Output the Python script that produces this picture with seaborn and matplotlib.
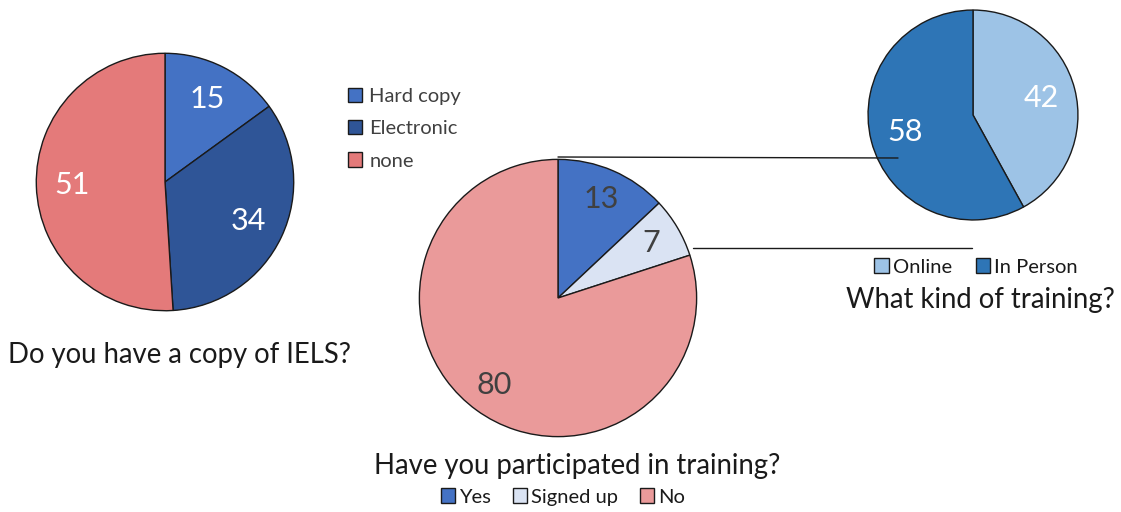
import matplotlib
matplotlib.use('Agg')
import matplotlib.pyplot as plt
import seaborn as sns
from matplotlib.lines import Line2D

# survey answers
copy_labels = ['Hard copy', 'Electronic', 'none']
copy_values = [15, 34, 51]
copy_colors = ['#4472C4', '#2F5597', '#E47A7A']

training_labels = ['Yes', 'Signed up', 'No']
training_values = [13, 7, 80]
training_colors = ['#4472C4', '#DAE3F3', '#EA9A9A']

kind_labels = ['Online', 'In Person']
kind_values = [42, 58]
kind_colors = ['#9DC3E6', '#2E75B6']

sns.set_theme(style='white')
plt.rcParams['font.family'] = ['Lato', 'DejaVu Sans']

W, H = 1121, 512
fig = plt.figure(figsize=(W / 100, H / 100), dpi=100)
fig.patch.set_facecolor('white')


def px_axes(cx, cy, r):
    # axes box in pixel coords (origin top-left) around a pie centre
    return fig.add_axes([(cx - r) / W, (H - cy - r) / H, 2 * r / W, 2 * r / H])


def draw_pie(ax, values, colors, text_color, pctdist):
    total = sum(values)
    wedges, _, autotexts = ax.pie(
        values, colors=colors, startangle=90, counterclock=False,
        autopct=lambda p: f'{round(p * total / 100)}', pctdistance=pctdist,
        wedgeprops=dict(edgecolor='#1a1a1a', linewidth=1.0),
        textprops=dict(color=text_color, fontsize=22))
    ax.set_xlim(-1.01, 1.01)
    ax.set_ylim(-1.01, 1.01)
    ax.axis('off')
    return wedges


title_size = 19.8
legend_size = 14.5

# pie 1 - copy of IELS
ax1 = px_axes(165, 182, 130)
w1 = draw_pie(ax1, copy_values, copy_colors, 'white', 0.72)
fig.legend(w1, copy_labels, loc='upper left', bbox_to_anchor=(340 / W, 1 - 80 / H),
           frameon=False, fontsize=legend_size, labelcolor='#404040', handlelength=0.7,
           handleheight=0.7, handletextpad=0.35, labelspacing=0.75, borderaxespad=0)
fig.text(8 / W, 1 - 355 / H, 'Do you have a copy of IELS?', fontsize=title_size,
         color='#1a1a1a', va='center', ha='left')

# pie 2 - participated in training
ax2 = px_axes(558, 298, 140)
w2 = draw_pie(ax2, training_values, training_colors, '#404040', 0.78)
fig.text(577 / W, 1 - 466 / H, 'Have you participated in training?', fontsize=title_size,
         color='#1a1a1a', va='center', ha='center')
fig.legend(w2, training_labels, loc='center', bbox_to_anchor=(563 / W, 1 - 497 / H),
           ncol=3, frameon=False, fontsize=legend_size, labelcolor='#1a1a1a', handlelength=0.7,
           handleheight=0.7, handletextpad=0.2, columnspacing=1.1, borderaxespad=0)

# pie 3 - kind of training
ax3 = px_axes(973, 115, 106)
w3 = draw_pie(ax3, kind_values, kind_colors, 'white', 0.67)
fig.legend(w3, kind_labels, loc='center', bbox_to_anchor=(976 / W, 1 - 267 / H),
           ncol=2, frameon=False, fontsize=legend_size, labelcolor='#1a1a1a', handlelength=0.7,
           handleheight=0.7, handletextpad=0.2, columnspacing=1.2, borderaxespad=0)
fig.text(980 / W, 1 - 300 / H, 'What kind of training?', fontsize=title_size,
         color='#1a1a1a', va='center', ha='center')

# connector lines from the "Yes" slice to the breakdown pie
for (x0, y0), (x1, y1) in [((558, 157), (898, 158)), ((693, 248), (972, 248))]:
    fig.add_artist(Line2D([x0 / W, x1 / W], [1 - y0 / H, 1 - y1 / H],
                          transform=fig.transFigure, color='#1a1a1a', linewidth=1.0))

fig.savefig('out.png', dpi=100, facecolor='white')
